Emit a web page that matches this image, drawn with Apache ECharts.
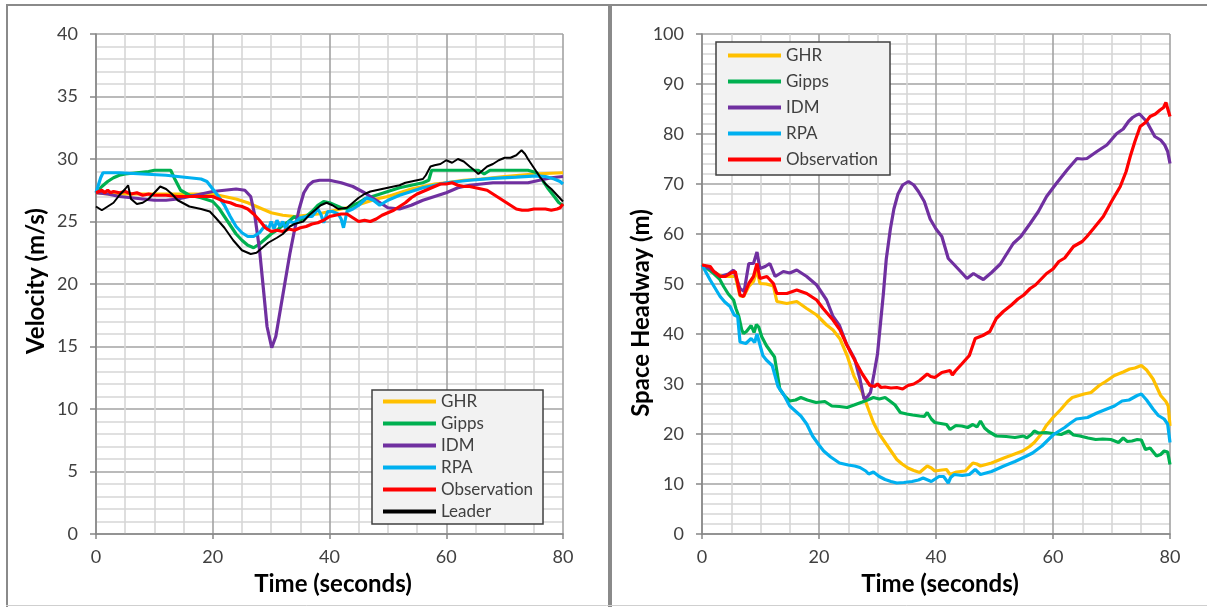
<!DOCTYPE html>
<html>
<head>
<meta charset="utf-8">
<script src="https://cdn.jsdelivr.net/npm/echarts@6/dist/echarts.min.js"></script>
<style>
html,body{margin:0;padding:0;background:#fff;}
#chart{width:1207px;height:607px;}
</style>
</head>
<body>
<div id="chart"></div>
<script>
// ---------- Velocity (left panel) ----------
const velGhrT = [0,2,5,8,12,16,20,22,24,26,28,30,32,34,36,38,40,42,44,46,48,50,52,54,56,58,60,63,66,70,75,80];
const velGhr  = [27.3,27.2,27.2,27.2,27.2,27.2,27.2,27.0,26.8,26.5,26.1,25.7,25.5,25.4,25.5,25.6,25.8,26.0,26.2,26.5,26.8,27.0,27.3,27.6,27.8,28.0,28.1,28.3,28.4,28.6,28.8,28.9];

const velGippsT = [0,1,2,3,4,5,7,9,10,12,12.8,13.5,14.5,16,18,20,21,22,23,24,25,26,27,28,29,30,31,32,33,34,35,36,37,38,39,40,41,42,43,44,45,46,48,50,52,54,56,57,57.5,60,63,65.5,66.5,67.5,70,74,75.5,76.5,77.5,78.5,79.3,80];
const velGipps  = [27.3,27.8,28.2,28.5,28.7,28.8,28.9,29.0,29.1,29.1,29.1,28.4,27.5,27.1,26.9,26.6,26.1,25.4,24.7,24.0,23.5,23.1,22.9,23.2,23.6,24.0,24.3,24.7,25.0,25.4,25.1,25.4,25.8,26.3,26.6,26.5,26.3,26.1,26.0,26.3,26.5,26.8,27.1,27.4,27.7,27.9,28.1,28.3,29.1,29.1,29.1,29.1,28.8,29.1,29.1,29.1,28.9,28.3,27.6,27.0,26.5,26.3];

const velIdmT = [0,2,4,6,8,10,12,14,16,18,20,22,24,25.5,26.5,27.2,28,28.7,29.3,30.1,30.8,31.6,32.4,33.2,34,34.8,35.6,36.4,37.2,38.3,40,42,44,46,48,50,52,54,56,58,60,62,64,66,68,70,72,74,76,78,80];
const velIdm  = [27.3,27.2,27.0,26.9,26.8,26.7,26.7,26.8,27.0,27.2,27.4,27.5,27.6,27.5,27.0,25.5,22.8,19.5,16.6,14.9,15.8,18.0,20.2,22.4,24.3,26.0,27.3,27.9,28.2,28.3,28.3,28.1,27.8,27.3,26.7,26.1,26.0,26.3,26.7,27.0,27.3,27.7,27.9,28.0,28.1,28.1,28.1,28.1,28.3,28.5,28.6];

const velRpaT = [0,0.8,1.2,4,8,12,14,16,18,19,20,21,22,23,24,25,26,27,28,29,29.5,30,30.5,31,31.5,32,32.5,33,34,35,36,37,38,38.5,39,39.7,40.5,41.5,42,42.4,43,44,45,46.4,47.5,48.6,50,52,54,56,58,60,64,68,72,75.5,77,78.5,79.5,80];
const velRpa  = [27.3,28.5,28.9,28.9,28.8,28.7,28.6,28.5,28.4,28.2,27.6,27.0,26.3,25.4,24.6,24.1,23.8,23.8,24.1,24.7,24.3,25.0,24.4,25.1,24.6,25.0,24.4,25.0,24.9,25.3,25.4,25.4,26.0,25.6,24.9,25.8,25.8,25.6,25.2,24.5,25.8,26.0,26.3,26.9,26.7,26.3,26.7,27.1,27.4,27.7,27.9,28.1,28.3,28.45,28.55,28.65,28.6,28.4,28.2,28.0];

const velObsT = [0,1,1.5,2,2.5,3,4,5,6,7,8,9,10,12,14,16,18,20,21,22,23,24,25,26,27,28,29,30,31,32,33,34,35,36,37,38,39,40,41,42,43,44,45,46,47,48,49,50,51,52,53,54,55,56,57,58,59,60,61,62,63,64,65,66,67,68,69,70,71,72,73,74,75,76,77,78,79,79.5,80];
const velObs  = [27.3,27.5,27.3,27.5,27.3,27.4,27.3,27.4,27.2,27.3,27.1,27.2,27.1,27.1,27.0,27.0,27.0,27.0,26.8,26.6,26.5,26.3,26.2,26.0,25.6,25.1,24.5,24.2,24.3,24.2,24.4,24.3,24.5,24.6,24.8,24.9,25.1,25.4,25.5,25.6,25.6,25.3,25.0,25.1,25.0,25.2,25.5,25.7,25.9,26.2,26.5,26.9,27.2,27.4,27.6,27.8,28.0,28.0,28.1,27.9,27.8,27.8,27.7,27.6,27.5,27.2,26.9,26.6,26.3,26.0,25.9,25.9,26.0,26.0,26.0,25.9,26.0,26.1,26.4];

const velLeaderT = [0,1,2,3,4,5,5.5,6,7,8,9,10,11,12,13,14,16,18,19.5,20.5,22,23.5,25,26.5,27.5,28.5,29.5,31,32,33.2,34,35.5,36.5,37.5,38.5,39.5,40.5,41.5,43,44,45,46,47,48,49,50,51,52,53,54,55,56,56.5,57.3,58,59,60,61,62,63,64,64.8,65.5,66,67,68,69,70,71,72,72.9,73.5,74,75,76,77,78,79,80];
const velLeader  = [26.2,25.9,26.2,26.5,27.1,27.6,27.9,26.8,26.4,26.5,26.8,27.3,27.8,27.6,27.2,26.7,26.2,26.0,25.8,25.3,24.5,23.5,22.7,22.4,22.5,22.9,23.3,23.7,24.0,24.6,24.8,25.0,25.5,25.9,26.3,26.5,26.3,26.0,26.1,26.5,26.9,27.2,27.4,27.5,27.6,27.7,27.8,27.9,28.1,28.2,28.3,28.4,28.7,29.4,29.5,29.6,29.9,29.7,30.0,29.8,29.4,29.1,28.8,29.0,29.4,29.6,29.9,30.1,30.1,30.3,30.7,30.4,30.0,29.3,28.6,28.0,27.6,27.1,26.6];

// ---------- Space headway (right panel) ----------
const hwGhrT = [0,1,2,3,4,5,5.7,6.5,7.1,8,8.8,9.4,9.9,11,11.6,12.2,12.8,14.5,16.2,17.9,19.6,21.3,22.4,23.6,24.8,26,27.4,28.5,29.3,30.3,31.3,32.3,33.3,34.2,35.2,36.2,37.2,38.5,39.2,39.8,41,41.8,42.4,43.5,45,46.3,47,47.6,49.5,51.6,53,54.8,56,56.8,58,58.8,60,61.4,62.5,63.3,65.3,66.5,67.9,69,70.5,72,73.1,74,75.1,76,77.1,78.4,79.3,79.7,80];
const hwGhr  = [53.8,53.3,52.5,51.8,51.5,51.5,51.5,47.6,47.5,49.5,50.5,52.8,50.1,50.0,49.8,49.6,46.5,46.1,46.5,45.1,43.8,41.8,40.8,39.0,35.7,31.5,28.3,24.8,22.3,20.0,18.3,16.6,14.9,14.0,13.2,12.7,12.3,13.6,13.2,12.6,12.8,12.9,11.9,12.4,12.6,14.2,14.0,13.6,14.2,15.2,15.8,16.6,17.5,18.3,20.0,21.6,23.3,25.0,26.5,27.3,28.0,28.3,29.7,30.5,31.7,32.4,33.0,33.2,33.7,32.8,31.0,27.7,26.5,25.6,21.6];

const hwGippsT = [0,1,2,3,3.7,4.5,5.4,5.8,6.3,6.8,7.1,7.6,8.4,8.9,9.3,9.7,10.2,11,12.4,13.3,14,15,16,16.9,18,19.5,21,22.2,23.5,24.8,26,27.4,28.5,29.3,30.3,31.3,32,33,33.9,35,36,37.2,38,38.5,39.2,39.8,40.8,41.8,42.4,43.4,44.4,45.4,46.3,47,47.6,48.3,49,50.3,52,53.5,55,55.5,56.3,56.8,57.5,58.8,60,61.4,62.7,63.5,64.6,66,67.3,68.5,69.9,71.2,72,72.7,73.5,74.4,75.1,75.8,76.6,77.7,78.4,79,79.6,80];
const hwGipps  = [53.8,53,52.1,51,49.5,48,46.8,45.1,43.5,40.8,40.1,40.5,41.7,40.3,41.9,41.4,39.5,37.7,35.4,29,27.8,26.6,26.8,27.3,26.8,26.3,26.5,25.6,25.5,25.3,25.8,26.4,26.9,27.3,27.0,27.3,26.7,25.8,24.3,24.0,23.8,23.6,23.5,24.3,23.0,22.3,22.1,21.9,20.9,21.7,21.6,21.3,21.9,21.4,22.6,21.2,20.5,19.6,19.5,19.3,19.6,19.2,19.9,20.6,20.2,20.3,20.1,19.9,20.6,19.8,19.6,19.2,18.9,19.0,18.9,18.3,19.2,18.5,18.6,18.9,18.8,16.9,17.2,15.6,15.9,16.6,16.4,13.9];

const hwIdmT = [0,1.5,3.1,4.5,5.4,6.5,7.2,8,8.8,9.4,9.9,10.8,11.6,12.5,13.2,13.9,15,16.2,17.9,19.6,21.3,22.4,23.5,24.7,26.1,27,27.7,28.3,28.8,29.4,30,30.5,31,31.5,32.2,32.8,33.5,34.3,35.3,36.2,37,38,39,40,41,42.1,43,44.2,45.3,46.4,47.2,48.1,49.5,51,53.2,54.5,56.1,57.5,58.9,60.5,62.4,64.1,65,65.8,67.5,69.2,70.9,72,72.9,73.6,74.3,74.8,76,77.4,78.4,79.1,79.6,80];
const hwIdm  = [53.8,53,51.5,52.0,52.8,49.1,48.5,54.1,54.1,56.4,53.1,53.5,54.1,51.5,52.0,52.5,52.2,52.8,51.5,49.8,46.8,43.5,41.7,38.0,35.0,31.0,27.0,27.5,28.3,32,36,42,48,55,61,65,68,69.8,70.5,69.8,68.5,66.5,63,61,59.5,55.1,54,52.5,51.1,52.1,51.5,50.9,52.3,54,58.1,59.5,62.1,64.5,67.5,70,72.8,75.1,75,75.1,76.5,77.8,80.1,81,82.5,83.3,83.8,84,82.5,79.5,78.8,77.8,76.5,74.1];

const hwRpaT = [0,1.4,3.1,3.9,4.8,5.5,6.1,6.5,7.5,8.4,9,9.4,10.4,11,12,13,14,15,16.9,17.9,18.9,20,20.8,22,23.5,25,26.1,27,28,28.5,29.3,30.3,31.3,32.3,33.3,34.5,35.9,37,37.8,38.4,39.2,40.5,41.3,42.1,42.5,43.1,44.5,45.7,46.7,47.6,49.5,51.6,53.5,55.5,56.5,58.1,60.1,62,63,64,65.9,67.5,69.2,70.5,71.8,73,74.4,75.1,76,77.1,78,79,79.6,80];
const hwRpa  = [53.8,50.8,47.5,46.4,45.5,43.8,43.5,38.4,38.1,39.1,38.3,40,35.7,34.8,33.7,29.5,27.8,25.6,23.6,22.0,19.6,17.8,16.6,15.4,14.2,13.8,13.6,13.3,12.6,12.0,12.4,11.5,10.9,10.5,10.2,10.3,10.5,10.8,11.2,10.9,10.5,11.5,11.5,10.2,11.3,11.9,11.7,11.9,12.9,11.9,12.5,13.6,14.5,15.6,16.2,17.6,19.9,21.3,22.2,23.0,23.3,24.2,25.0,25.6,26.6,26.8,27.7,28.0,26.8,25.0,23.7,23.0,22.0,18.3];

const hwObsT = [0,1.4,2,3.1,4,4.8,5.7,6.5,7.1,8,8.8,9.4,9.9,11.1,12.2,12.8,14.5,16.2,17.9,19.6,20.7,22.4,23.6,24.8,26,27.4,28.7,29.5,30,30.6,31.3,32.3,33.3,34.3,35.2,36.2,37.2,38.5,39.1,39.8,41,42.4,42.8,43.3,44.4,45.7,46.7,48,49.2,50.3,51.5,52.9,54,55,56.1,57,58.9,60,61,62,63.5,65,65.8,67,68.6,70,71.5,72.5,73.2,74,74.9,75.8,76.6,77.5,78.3,78.9,79.3,79.6,80];
const hwObs  = [53.8,53.5,52.5,51.5,51.5,52.1,52.5,47.8,47.5,50.1,51.5,54.1,51.1,51.5,50.1,48.1,48.1,48.8,48.1,46.8,45.1,42.8,40.8,37.7,35.0,32.0,29.7,29.5,30.0,29.3,29.4,29.2,29.3,29.0,29.7,30.0,30.7,32.0,31.5,31.3,32.3,32.7,31.8,32.6,34.0,35.7,39.1,39.7,40.5,43.1,44.5,45.8,47.0,47.8,49.1,49.8,52.1,53.0,54.5,55.2,57.5,58.5,59.5,61.2,63.5,66.5,69.5,72.5,75.5,78.5,81.5,82.3,83.5,84.0,84.8,85.3,86.3,86.0,83.5];

// ---------- Axis ticks / labels ----------
const timeTicks = {min: 0, max: 80, interval: 20};
const velTicks = {min: 0, max: 40, interval: 5};
const hwTicks = {min: 0, max: 100, interval: 10};
const leftNames = ['GHR','Gipps','IDM','RPA','Observation','Leader'];
const rightNames = ['GHR','Gipps','IDM','RPA','Observation'];
const colors = {GHR:'#FFC000', Gipps:'#00B050', IDM:'#7030A0', RPA:'#00B0F0', Observation:'#FF0000', Leader:'#000000'};

const pair = (t, v) => t.map((x, i) => [x, v[i]]);

const FONT = 'Lato, "Open Sans", sans-serif';
const LABEL_COLOR = '#404040';

function xAxisDef(gi) {
  return {
    type: 'value', gridIndex: gi, min: timeTicks.min, max: timeTicks.max, interval: timeTicks.interval,
    axisLine: {show: true, onZero: false, lineStyle: {color: '#868686', width: 1.5}},
    axisTick: {show: true, length: 5, lineStyle: {color: '#868686', width: 1.5}},
    axisLabel: {color: LABEL_COLOR, fontSize: 18, fontFamily: FONT, margin: 14},
    splitLine: {show: true, lineStyle: {color: '#a3a3a3', width: 1.6}},
    minorTick: {show: false, splitNumber: 4},
    minorSplitLine: {show: true, lineStyle: {color: '#d6d6d6', width: 1.6}}
  };
}
function yAxisDef(gi, ticks, minorSplit) {
  return {
    type: 'value', gridIndex: gi, min: ticks.min, max: ticks.max, interval: ticks.interval,
    axisLine: {show: true, lineStyle: {color: '#868686', width: 1.5}},
    axisTick: {show: true, length: 6, lineStyle: {color: '#868686', width: 1.5}},
    axisLabel: {color: LABEL_COLOR, fontSize: 18, fontFamily: FONT, margin: 18},
    splitLine: {show: true, lineStyle: {color: '#a3a3a3', width: 1.6}},
    minorTick: {show: false, splitNumber: minorSplit},
    minorSplitLine: {show: true, lineStyle: {color: '#d6d6d6', width: 1.6}}
  };
}
function lineSeries(name, t, v, gi, width) {
  return {
    name: name, type: 'line', xAxisIndex: gi, yAxisIndex: gi,
    data: pair(t, v), showSymbol: false, symbol: 'none', smooth: false,
    lineStyle: {color: colors[name], width: width},
    itemStyle: {color: colors[name]},
    emphasis: {disabled: true}, animation: false
  };
}

const chart = echarts.init(document.getElementById('chart'), null, {renderer: 'canvas'});
const titleFont = 'bold 24px ' + FONT;
chart.setOption({
  backgroundColor: '#ffffff',
  animation: false,
  grid: [
    {left: 96, top: 34, width: 467, height: 500},
    {left: 702, top: 34, width: 468, height: 500}
  ],
  xAxis: [xAxisDef(0), xAxisDef(1)],
  yAxis: [yAxisDef(0, velTicks, 5), yAxisDef(1, hwTicks, 5)],
  legend: [
    {
      data: leftNames, left: 372, top: 390, orient: 'vertical',
      icon: 'rect', itemWidth: 53, itemHeight: 4, itemGap: 5,
      padding: [3, 10, 4, 11],
      backgroundColor: '#f2f2f2', borderColor: '#404040', borderWidth: 1.5,
      textStyle: {color: LABEL_COLOR, fontSize: 17, fontFamily: FONT, lineHeight: 16},
      selectedMode: false
    },
    {
      data: rightNames, left: 716, top: 42, orient: 'vertical',
      icon: 'rect', itemWidth: 53, itemHeight: 4, itemGap: 9,
      padding: [5, 12, 7, 12],
      backgroundColor: '#f2f2f2', borderColor: '#404040', borderWidth: 1.5,
      textStyle: {color: LABEL_COLOR, fontSize: 17, fontFamily: FONT, lineHeight: 16},
      selectedMode: false
    }
  ],
  series: [
    lineSeries('GHR', velGhrT, velGhr, 0, 3.2),
    lineSeries('Gipps', velGippsT, velGipps, 0, 3.2),
    lineSeries('IDM', velIdmT, velIdm, 0, 3.2),
    lineSeries('RPA', velRpaT, velRpa, 0, 3.2),
    lineSeries('Observation', velObsT, velObs, 0, 3.2),
    lineSeries('Leader', velLeaderT, velLeader, 0, 2),
    lineSeries('GHR', hwGhrT, hwGhr, 1, 3.2),
    lineSeries('Gipps', hwGippsT, hwGipps, 1, 3.2),
    lineSeries('IDM', hwIdmT, hwIdm, 1, 3.2),
    lineSeries('RPA', hwRpaT, hwRpa, 1, 3.2),
    lineSeries('Observation', hwObsT, hwObs, 1, 3.2)
  ],
  graphic: [
    {type: 'line', silent: true, shape: {x1: 6, y1: 5, x2: 1207, y2: 5}, style: {stroke: '#8a8a8a', lineWidth: 2}},
    {type: 'line', silent: true, shape: {x1: 7, y1: 5, x2: 7, y2: 607}, style: {stroke: '#8a8a8a', lineWidth: 2}},
    {type: 'rect', silent: true, shape: {x: 608, y: 5, width: 4, height: 602}, style: {fill: '#8a8a8a'}},
    {type: 'line', silent: true, shape: {x1: 6, y1: 605.5, x2: 1207, y2: 605.5}, style: {stroke: '#cfcfcf', lineWidth: 1}},
    {type: 'text', silent: true, x: 333, y: 584, style: {text: 'Time (seconds)', font: titleFont, fill: '#000', align: 'center', verticalAlign: 'middle'}},
    {type: 'text', silent: true, x: 940, y: 584, style: {text: 'Time (seconds)', font: titleFont, fill: '#000', align: 'center', verticalAlign: 'middle'}},
    {type: 'text', silent: true, x: 36, y: 281, rotation: Math.PI / 2, style: {text: 'Velocity (m/s)', font: titleFont, fill: '#000', align: 'center', verticalAlign: 'middle'}},
    {type: 'text', silent: true, x: 641, y: 313, rotation: Math.PI / 2, style: {text: 'Space Headway (m)', font: titleFont, fill: '#000', align: 'center', verticalAlign: 'middle'}}
  ]
});
</script>
</body>
</html>
